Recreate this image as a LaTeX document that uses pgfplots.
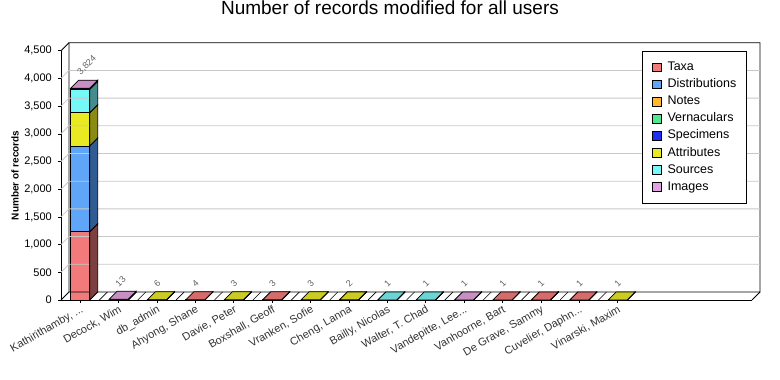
\documentclass[border=0pt]{standalone}
\usepackage{pgfplots}
\pgfplotsset{compat=1.18}
\usepackage{pgfplotstable}
\usepackage{graphicx}
\usepackage{fontspec}
\setmainfont{Liberation Sans}

\newcommand\ddd{...}
\definecolor{cTaxa}{HTML}{F27A7A}
\definecolor{cDist}{HTML}{60A6F8}
\definecolor{cNotes}{HTML}{FFB830}
\definecolor{cVern}{HTML}{50E890}
\definecolor{cSpec}{HTML}{2030F0}
\definecolor{cAttr}{HTML}{EAEA22}
\definecolor{cSrc}{HTML}{74F8F8}
\definecolor{cImg}{HTML}{E2A2E2}
\definecolor{sTaxa}{HTML}{7D4040}
\definecolor{sDist}{HTML}{305C92}
\definecolor{sAttr}{HTML}{8B8B14}
\definecolor{sSrc}{HTML}{458D8D}
\definecolor{sImg}{HTML}{7A5577}
\definecolor{tTaxa}{HTML}{D56B6B}
\definecolor{tAttr}{HTML}{CBCB23}
\definecolor{tSrc}{HTML}{6BD5D5}
\definecolor{tImg}{HTML}{C88FC2}
\definecolor{gridgray}{HTML}{C8C8C8}
\definecolor{labgray}{HTML}{606060}

\pgfplotstableread{
x Taxa Dist Attr Src Img top
0 1230 1550 600 420 24 I
1 0 0 0 0 13 I
2 0 0 6 0 0 A
3 4 0 0 0 0 T
4 0 0 3 0 0 A
5 3 0 0 0 0 T
6 0 0 3 0 0 A
7 0 0 2 0 0 A
8 0 0 0 1 0 S
9 0 0 0 1 0 S
10 0 0 0 0 1 I
11 1 0 0 0 0 T
12 1 0 0 0 0 T
13 1 0 0 0 0 T
14 0 0 1 0 0 A
}\datatable
% cumulative tops of the stacked segments
\pgfplotstablecreatecol[create col/expr={\thisrow{Taxa}+\thisrow{Dist}}]{cDist}\datatable
\pgfplotstablecreatecol[create col/expr={\thisrow{cDist}+\thisrow{Attr}}]{cAttr}\datatable
\pgfplotstablecreatecol[create col/expr={\thisrow{cAttr}+\thisrow{Src}}]{cSrc}\datatable
\pgfplotstablecreatecol[create col/expr={\thisrow{cSrc}+\thisrow{Img}}]{total}\datatable

\pgfdeclareplotmark{topface}{%
  \pgfpathmoveto{\pgfqpoint{-9.5pt}{0pt}}%
  \pgfpathlineto{\pgfqpoint{9.5pt}{0pt}}%
  \pgfpathlineto{\pgfqpoint{17.5pt}{8pt}}%
  \pgfpathlineto{\pgfqpoint{-1.5pt}{8pt}}%
  \pgfpathclose\pgfusepathqfillstroke}
\pgfdeclareplotmark{sideface}{%
  \pgfmathsetmacro\hh{\segv*0.0554}%
  \pgfpathmoveto{\pgfqpoint{9.5pt}{0pt}}%
  \pgfpathlineto{\pgfqpoint{17.5pt}{8pt}}%
  \pgfpathlineto{\pgfpoint{17.5pt}{8pt-\hh pt}}%
  \pgfpathlineto{\pgfpoint{9.5pt}{-\hh pt}}%
  \pgfpathclose\pgfusepathqfillstroke}

\pgfplotsset{
  frame3d/.style={scale only axis, width=691pt, height=249.3pt,
    at={(61pt,80pt)}, anchor=south west,
    xmin=-0.5, xmax=17.5, ymin=0, ymax=4500, clip=false},
  sqlegend/.style={legend image code/.code={%
    \draw[##1,draw=black,line width=0.5pt] (0pt,-4.35pt) rectangle (8.7pt,4.35pt);}},
}

\begin{document}
\begin{tikzpicture}
\path[use as bounding box] (0,0) rectangle (780pt,380pt);
\begin{axis}[frame3d, ybar stacked, bar width=19pt,
  axis x line*=bottom, axis y line*=left,
  axis line style={-, black, line width=0.8pt},
  xtick={0,1,2,3,4,5,6,7,8,9,10,11,12,13,14},
  xticklabels={{Kathirithamby, \ddd},{Decock, Wim},{db\_admin},{Ahyong, Shane},{Davie, Peter},{Boxshall, Geoff},{Vranken, Sofie},{Cheng, Lanna},{Bailly, Nicolas},{Walter, T. Chad},{Vandepitte, Lee\ddd},{Vanhoorne, Bart},{De Grave, Sammy},{Cuvelier, Daphn\ddd},{Vinarski, Maxim}},
  ytick={0,500,1000,1500,2000,2500,3000,3500,4000,4500},
  tick align=outside, major tick length=3pt,
  tick style={black, line width=0.6pt},
  xticklabel style={rotate=30, anchor=north east, font=\fontsize{11}{13}\selectfont, text=black!80, inner sep=1pt},
  yticklabel style={font=\fontsize{11}{13}\selectfont, inner sep=2pt, xshift=-4pt},
  /pgf/number format/1000 sep={,},
  /pgf/number format/assume math mode=true,
  ylabel={Number of records},
  ylabel style={font=\bfseries\fontsize{10}{12}\selectfont, at={(axis description cs:-0.0666,0.5)}, anchor=center},
  title={Number of records modified for all users},
  title style={at={(axis description cs:0.4761,1.1231)}, anchor=base, font=\fontsize{19}{23}\selectfont},
  legend cell align=left,
  legend style={at={(1,1)}, anchor=north east, xshift=-5.3pt,
    draw=black, line width=0.8pt, fill=white,
    inner xsep=10pt, inner ysep=9.9pt,
    font=\fontsize{12.5}{15}\selectfont,
    row sep=4.6pt, column sep=6.4pt,
    nodes={inner sep=0pt, text height=9.5pt, text depth=3pt}},
]
% back and left walls, floor
\pgfplotsinvokeforeach{500,1000,1500,2000,2500,3000,3500,4000}{
  \draw[gridgray, line width=0.8pt] (axis cs:-0.5,#1) -- ++(8pt,8pt) -- ([shift={(8pt,8pt)}]axis cs:17.5,#1);
}
\pgfplotsinvokeforeach{0.5,1.5,2.5,3.5,4.5,5.5,6.5,7.5,8.5,9.5,10.5,11.5,12.5,13.5}{
  \draw[black, line width=0.6pt] (axis cs:#1,0) -- ++(8pt,8pt);
}
\draw[black, line width=0.8pt] (axis cs:-0.5,0) -- ++(8pt,8pt)
  -- ([shift={(8pt,8pt)}]axis cs:-0.5,4500)
  -- ([shift={(8pt,8pt)}]axis cs:17.5,4500)
  -- ([shift={(8pt,8pt)}]axis cs:17.5,0)
  -- ([shift={(8pt,8pt)}]axis cs:-0.5,0);
\draw[black, line width=0.8pt] (axis cs:-0.5,4500) -- ++(8pt,8pt);
\draw[black, line width=0.8pt] (axis cs:17.5,0) -- ++(8pt,8pt);

\addplot[fill=cTaxa, draw=black, line width=0.8pt, sqlegend] table[x=x, y=Taxa]{\datatable};
\addlegendentry{Taxa}
\addplot[fill=cDist, draw=black, line width=0.8pt, sqlegend] table[x=x, y=Dist]{\datatable};
\addlegendentry{Distributions}
\addlegendimage{fill=cNotes, sqlegend}
\addlegendentry{Notes}
\addlegendimage{fill=cVern, sqlegend}
\addlegendentry{Vernaculars}
\addlegendimage{fill=cSpec, sqlegend}
\addlegendentry{Specimens}
\addplot[fill=cAttr, draw=black, line width=0.8pt, sqlegend] table[x=x, y=Attr]{\datatable};
\addlegendentry{Attributes}
\addplot[fill=cSrc, draw=black, line width=0.8pt, sqlegend] table[x=x, y=Src]{\datatable};
\addlegendentry{Sources}
\addplot[fill=cImg, draw=black, line width=0.8pt, sqlegend] table[x=x, y=Img]{\datatable};
\addlegendentry{Images}
\end{axis}

\begin{axis}[frame3d, hide axis, /pgf/number format/1000 sep={,},
  /pgf/number format/assume math mode=true]
\addplot[only marks, mark=sideface, mark options={fill=sTaxa, draw=black, line width=0.8pt},
  visualization depends on={\thisrow{Taxa} \as \segv}]
  table[x=x, y=Taxa]{\datatable};
\addplot[only marks, mark=sideface, mark options={fill=sDist, draw=black, line width=0.8pt},
  visualization depends on={\thisrow{Dist} \as \segv}]
  table[x=x, y=cDist]{\datatable};
\addplot[only marks, mark=sideface, mark options={fill=sAttr, draw=black, line width=0.8pt},
  visualization depends on={\thisrow{Attr} \as \segv}]
  table[x=x, y=cAttr]{\datatable};
\addplot[only marks, mark=sideface, mark options={fill=sSrc, draw=black, line width=0.8pt},
  visualization depends on={\thisrow{Src} \as \segv}]
  table[x=x, y=cSrc]{\datatable};
\addplot[only marks, mark=sideface, mark options={fill=sImg, draw=black, line width=0.8pt},
  visualization depends on={\thisrow{Img} \as \segv}]
  table[x=x, y=total]{\datatable};
\addplot[scatter, only marks, point meta=explicit symbolic,
  scatter/classes={
    T={mark=topface, fill=tTaxa, draw=black, line width=0.8pt},
    A={mark=topface, fill=tAttr, draw=black, line width=0.8pt},
    S={mark=topface, fill=tSrc, draw=black, line width=0.8pt},
    I={mark=topface, fill=tImg, draw=black, line width=0.8pt}}]
  table[x=x, y=total, meta=top]{\datatable};
\addplot[draw=none, mark=none, point meta=y,
  nodes near coords={\rotatebox{45}{\pgfmathprintnumber{\pgfplotspointmeta}}},
  nodes near coords style={font=\fontsize{9}{10}\selectfont, text=labgray, inner sep=0pt,
    anchor=south west, shift={(-4pt,12pt)}}]
  table[x=x, y=total]{\datatable};
\end{axis}
\end{tikzpicture}
\end{document}
